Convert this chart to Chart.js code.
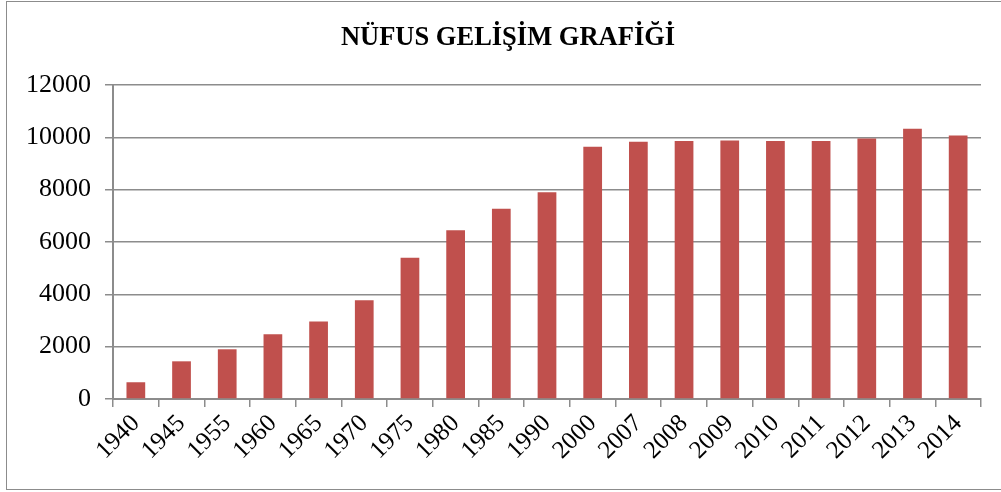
<!DOCTYPE html>
<html>
<head>
<meta charset="utf-8">
<script src="https://cdn.jsdelivr.net/npm/chart.js@4"></script>
<style>
  body { margin: 0; background: #fff; }
  #wrap { position: relative; width: 1001px; height: 492px; }
  #frame { position: absolute; left: 6px; top: 1px; width: 1000px; height: 489px; border: 1px solid #8c8c8c; box-sizing: border-box; pointer-events: none; }
</style>
</head>
<body>
<div id="wrap">
  <canvas id="chart" width="1001" height="492"></canvas>
  <div id="frame"></div>
</div>
<script>
const years = ['1940', '1945', '1955', '1960', '1965', '1970', '1975', '1980', '1985', '1990',
  '2000', '2007', '2008', '2009', '2010', '2011', '2012', '2013', '2014'];
const population = [640, 1440, 1900, 2470, 2960, 3770, 5400, 6450, 7270, 7900,
  9640, 9830, 9860, 9880, 9860, 9860, 9960, 10330, 10070];
const titleText = 'NÜFUS GELİŞİM GRAFİĞİ';

const serif = '"Liberation Serif", "Times New Roman", serif';
const gray = '#8c8c8c';

// title sits a bit right of the canvas centre in the original, so draw it by hand
const titlePlugin = {
  id: 'titleText',
  afterDraw(chart) {
    const c = chart.ctx;
    c.save();
    c.font = 'bold 26.5px ' + serif;
    c.fillStyle = '#000';
    c.textAlign = 'center';
    c.textBaseline = 'middle';
    c.fillText(titleText, 508, 38);
    c.restore();
  }
};

const ctx = document.getElementById('chart').getContext('2d');
const chart = new Chart(ctx, {
  type: 'bar',
  data: {
    labels: years,
    datasets: [{
      label: 'Nüfus',
      data: population,
      backgroundColor: '#C0504D',
      borderWidth: 0,
      barPercentage: 0.41,
      categoryPercentage: 1
    }]
  },
  options: {
    responsive: false,
    animation: false,
    layout: { padding: { left: 0, right: 20, top: 85, bottom: 0 } },
    plugins: {
      legend: { display: false },
      tooltip: { enabled: false },
      title: { display: false }
    },
    scales: {
      x: {
        grid: { display: true, drawOnChartArea: false, offset: true, color: gray, lineWidth: 1.5, tickLength: 8 },
        border: { color: gray, width: 2 },
        ticks: {
          color: '#000',
          font: { family: serif, size: 25 },
          minRotation: 45,
          maxRotation: 45,
          autoSkip: false,
          padding: 2
        },
        afterFit: (scale) => { scale.height = 93; }
      },
      y: {
        min: 0,
        max: 12000,
        ticks: {
          stepSize: 2000,
          color: '#000',
          font: { family: serif, size: 26 },
          padding: 14,
          callback: (v) => String(v)
        },
        grid: { color: gray, lineWidth: 1.5, tickLength: 8 },
        border: { color: gray, width: 2 },
        afterFit: (scale) => { scale.width = 113; }
      }
    }
  },
  plugins: [titlePlugin]
});
</script>
</body>
</html>
